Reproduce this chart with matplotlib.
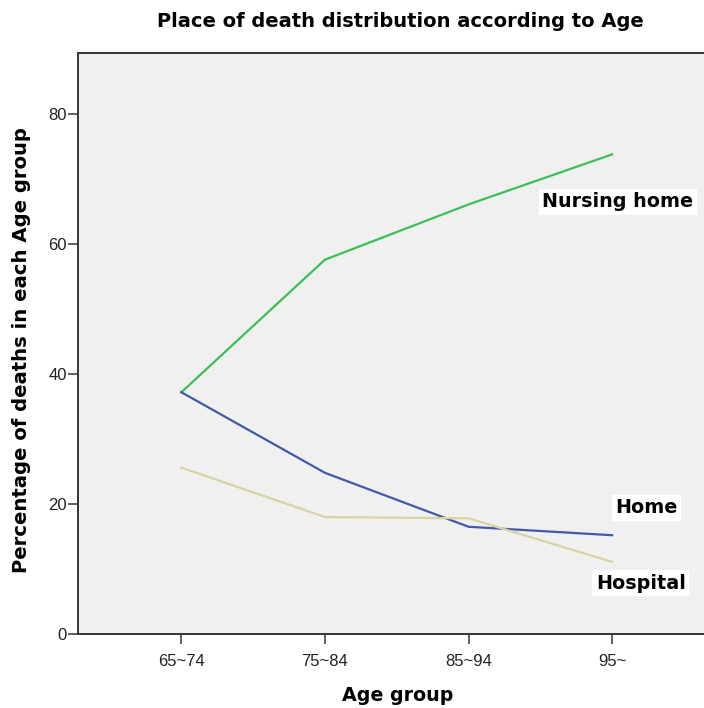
import matplotlib
matplotlib.use("Agg")
import matplotlib.pyplot as plt

age_groups = ["65~74", "75~84", "85~94", "95~"]
nursing_home = [37.2, 57.6, 66.1, 73.8]
home = [37.2, 24.8, 16.5, 15.2]
hospital = [25.6, 18.0, 17.8, 11.1]
yticks = [0, 20, 40, 60, 80]

plt.rcParams['font.family'] = ['Liberation Sans', 'DejaVu Sans']
BOLD = ['DejaVu Sans']

W, H = 704, 708
fig = plt.figure(figsize=(W / 100, H / 100), dpi=100)
ax = fig.add_axes([78/W, (H-634)/H, (W-78)/W, (634-53)/H])
ax.set_facecolor('#f0f0f0')

x = list(range(len(age_groups)))
ax.plot(x, nursing_home, color='#3dbf55', lw=1.6)
ax.plot(x, home, color='#4358ad', lw=1.6)
ax.plot(x, hospital, color='#d8d3a0', lw=1.6)

ax.set_xlim(-0.72, 3.64)
ax.set_ylim(0, 89.4)
ax.set_xticks(x)
ax.set_xticklabels(age_groups, fontsize=12)
ax.set_yticks(yticks)
ax.set_yticklabels([str(v) for v in yticks], fontsize=12)
ax.tick_params(axis='y', length=7.5, width=1.2, pad=0.5, colors='#444444', labelcolor='#222222')
ax.tick_params(axis='x', length=7.5, width=1.2, pad=7, colors='#444444', labelcolor='#222222')
for s in ['left', 'bottom', 'top']:
    ax.spines[s].set_color('#333333')
    ax.spines[s].set_linewidth(1.4)
ax.spines['right'].set_visible(False)

box = dict(facecolor='white', edgecolor='none', pad=2.5)
ax.text(3.04, 66.5, "Nursing home", fontsize=13.8, fontweight='bold', family=BOLD,
        ha='center', va='center', bbox=box)
ax.text(3.24, 19.4, "Home", fontsize=13.8, fontweight='bold', family=BOLD,
        ha='center', va='center', bbox=box)
ax.text(3.20, 7.8, "Hospital", fontsize=13.8, fontweight='bold', family=BOLD,
        ha='center', va='center', bbox=box)

fig.text(398/W, 1 - 701/H, "Age group", fontsize=13.7, fontweight='bold', family=BOLD,
         ha='center', va='baseline')
fig.text(22/W, 1 - 350/H, "Percentage of deaths in each Age group", fontsize=14.1,
         fontweight='bold', family=BOLD, ha='center', va='center', rotation=90)
fig.text(400/W, 1 - 27/H, "Place of death distribution according to Age", fontsize=14,
         fontweight='bold', family=BOLD, ha='center', va='baseline')

fig.savefig("out.png", dpi=100)
